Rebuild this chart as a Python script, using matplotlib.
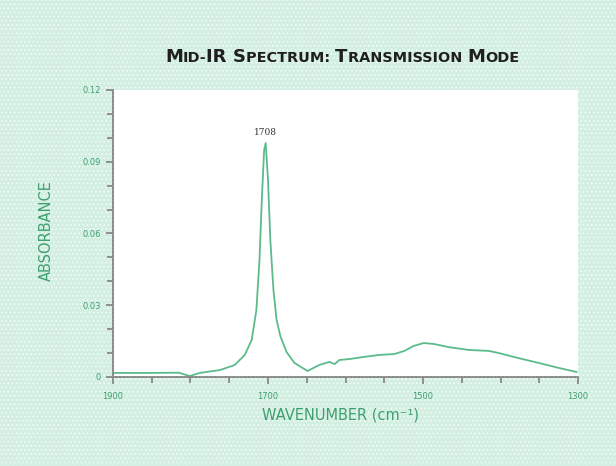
import matplotlib
matplotlib.use("Agg")
import matplotlib.pyplot as plt
from matplotlib.patches import Rectangle
from matplotlib.ticker import MultipleLocator

# spectrum
wavenumber = [1900, 1852, 1815, 1801, 1788, 1762, 1743, 1730, 1721, 1715, 1711,
              1708, 1705, 1703, 1700, 1697, 1693, 1689, 1684, 1676, 1666, 1653,
              1649, 1634, 1621, 1614, 1608, 1595, 1576, 1557, 1537, 1524, 1512,
              1499, 1486, 1467, 1441, 1415, 1402, 1377, 1351, 1325, 1302]
absorbance = [0.0017, 0.0017, 0.0018, 0.0004, 0.0017, 0.0029, 0.0050, 0.0092,
              0.0155, 0.0280, 0.0488, 0.0740, 0.0949, 0.0978, 0.0824, 0.0573,
              0.0364, 0.0240, 0.0170, 0.0104, 0.0059, 0.0033, 0.0025, 0.0050,
              0.0063, 0.0054, 0.0071, 0.0075, 0.0084, 0.0092, 0.0096, 0.0109,
              0.0130, 0.0142, 0.0138, 0.0125, 0.0113, 0.0109, 0.0100, 0.0079,
              0.0059, 0.0038, 0.0021]
peak_label = "1708"
peak_pos = 1703
x_ticks = [1900, 1700, 1500, 1300]
y_ticks = [0, 0.03, 0.06, 0.09, 0.12]
y_ticklabels = ["0", "0.03", "0.06", "0.09", "0.12"]

green = "#3f9f6e"
line_green = "#5cbb8c"
bg = "#d3efe2"

plt.rcParams["hatch.linewidth"] = 0.7
fig = plt.figure(figsize=(6.16, 4.66), dpi=100)
fig.patch.set_facecolor(bg)
# dotted paper texture
fig.patches.append(Rectangle((0, 0), 1, 1, transform=fig.transFigure,
                             facecolor="none", edgecolor="#f2fbf7",
                             hatch="....", linewidth=0, zorder=-1))

ax = fig.add_axes([0.1834, 0.191, 0.755, 0.616])
ax.set_facecolor("white")
ax.plot(wavenumber, absorbance, color=line_green, lw=1.3)
ax.set_xlim(1900, 1300)
ax.set_ylim(0, 0.12)

ax.set_xticks(x_ticks)
ax.set_xticklabels([str(v) for v in x_ticks])
ax.xaxis.set_minor_locator(MultipleLocator(50))
ax.set_yticks(y_ticks)
ax.set_yticklabels(y_ticklabels)
ax.yaxis.set_minor_locator(MultipleLocator(0.01))
ax.tick_params(which="both", direction="out", color="#808080", width=1.2,
               labelcolor=green, labelsize=6)
ax.tick_params(which="major", length=5)
ax.tick_params(which="minor", length=4)
ax.tick_params(axis="x", pad=6)

for s in ["top", "right"]:
    ax.spines[s].set_visible(False)
for s in ["left", "bottom"]:
    ax.spines[s].set_color("#8a8a8a")
    ax.spines[s].set_linewidth(1.3)
    ax.spines[s].set_linestyle((0, (1.5, 0.6)))

ax.annotate(peak_label, (peak_pos, max(absorbance)), xytext=(0, 4),
            textcoords="offset points", ha="center", va="bottom",
            fontsize=6.5, family="DejaVu Serif", color="#333333")

fig.text(0.076, 0.506, "ABSORBANCE", rotation=90, ha="center", va="center",
         color=green, fontsize=10.5)
fig.text(0.553, 0.109, "WAVENUMBER (cm\u207b\u00b9)", ha="center", va="center",
         color=green, fontsize=10.5)

# small-caps title built from pieces
pieces = [("M", True), ("ID-", False), ("IR ", True), ("S", True),
          ("PECTRUM: ", False), ("T", True), ("RANSMISSION ", False),
          ("M", True), ("ODE", False)]
renderer = fig.canvas.get_renderer()
texts = []
x = 0.0
for txt, big in pieces:
    t = fig.text(x, 0.868, txt, fontsize=13 if big else 10.4, family="DejaVu Sans",
                 fontweight="bold", color="#1f1f1f", ha="left", va="baseline")
    w = t.get_window_extent(renderer).width / fig.bbox.width
    texts.append(t)
    x += w
x0 = 0.555 - x / 2
for t in texts:
    px, py = t.get_position()
    t.set_position((px + x0, py))

fig.savefig("out.png", dpi=100, facecolor=fig.get_facecolor())
